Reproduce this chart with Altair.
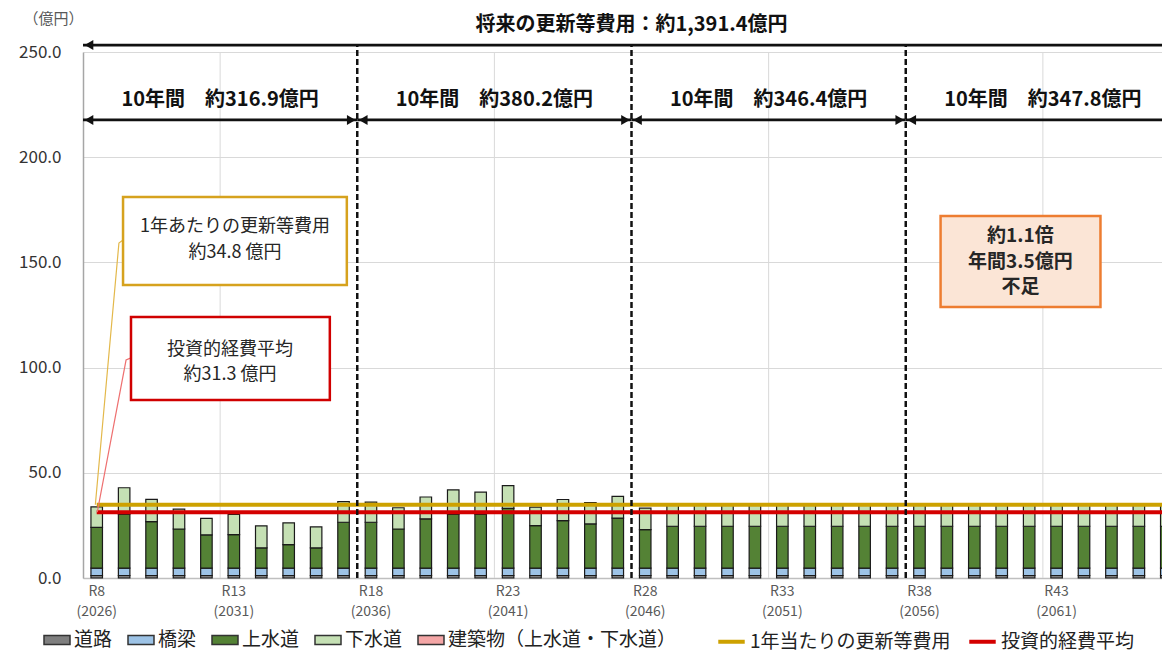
import altair as alt
import pandas as pd

FONT = "Noto Sans CJK JP"

# ---------------- data ----------------
years = ["R8", "R9", "R10", "R11", "R12", "R13", "R14", "R15", "R16", "R17",
         "R18", "R19", "R20", "R21", "R22", "R23", "R24", "R25", "R26", "R27",
         "R28", "R29", "R30", "R31", "R32", "R33", "R34", "R35", "R36", "R37",
         "R38", "R39", "R40", "R41", "R42", "R43", "R44", "R45", "R46", "R47"]
tick_years = ["R8", "R13", "R18", "R23", "R28", "R33", "R38", "R43"]

categories = ["道路", "橋梁", "上水道", "下水道", "建築物（上水道・下水道）"]
cat_colors = ["#7F7F7F", "#9DC3E6", "#548235", "#C5E0B4", "#F4A6A6"]

road = [1.2, 1.2, 1.2, 1.2, 1.2, 1.2, 1.2, 1.2, 1.2, 1.2,
        1.2, 1.2, 1.2, 1.2, 1.2, 1.2, 1.2, 1.2, 1.2, 1.2,
        1.2, 1.2, 1.2, 1.2, 1.2, 1.2, 1.2, 1.2, 1.2, 1.2,
        1.2, 1.2, 1.2, 1.2, 1.2, 1.2, 1.2, 1.2, 1.2, 1.2]
bridge = [3.5, 3.5, 3.5, 3.5, 3.5, 3.5, 3.5, 3.5, 3.5, 3.5,
          3.5, 3.5, 3.5, 3.5, 3.5, 3.5, 3.5, 3.5, 3.5, 3.5,
          3.5, 3.5, 3.5, 3.5, 3.5, 3.5, 3.5, 3.5, 3.5, 3.5,
          3.5, 3.5, 3.5, 3.5, 3.5, 3.5, 3.5, 3.5, 3.5, 3.5]
water = [19.4, 25.7, 22.1, 18.6, 15.8, 15.9, 9.6, 11.2, 9.6, 21.8,
         21.8, 18.6, 23.4, 25.7, 25.7, 28.4, 20.2, 22.6, 21.0, 23.8,
         18.3, 19.9, 19.9, 19.9, 19.9, 19.9, 19.9, 19.9, 19.9, 19.9,
         19.9, 19.9, 19.9, 19.9, 19.9, 19.9, 19.9, 19.9, 19.9, 19.9]
sewer = [9.7, 12.5, 10.6, 9.4, 7.8, 9.6, 10.5, 10.3, 10.0, 9.8,
         9.6, 10.1, 10.4, 11.5, 10.4, 10.8, 8.8, 10.0, 10.1, 10.3,
         10.2, 10.2, 10.2, 10.2, 10.2, 10.2, 10.2, 10.2, 10.2, 10.2,
         10.2, 10.2, 10.2, 10.2, 10.2, 10.2, 10.2, 10.2, 10.2, 10.2]
building = [0.0, 0.0, 0.0, 0.0, 0.0, 0.0, 0.0, 0.0, 0.0, 0.0,
            0.0, 0.0, 0.0, 0.0, 0.0, 0.0, 0.0, 0.0, 0.0, 0.0,
            0.0, 0.0, 0.0, 0.0, 0.0, 0.0, 0.0, 0.0, 0.0, 0.0,
            0.0, 0.0, 0.0, 0.0, 0.0, 0.0, 0.0, 0.0, 0.0, 0.0]

line_names = ["1年当たりの更新等費用", "投資的経費平均"]
line_values = [34.8, 31.3]
line_colors = ["#CDA100", "#D40000"]

title_text = "将来の更新等費用：約1,391.4億円"
period_labels = ["10年間　約316.9億円", "10年間　約380.2億円",
                 "10年間　約346.4億円", "10年間　約347.8億円"]
period_start = [0, 10, 20, 30]
period_end = [10, 20, 30, 39.8]
boundaries = [10, 20, 30]
grid_x = [5, 15, 25, 35]

gold_box_text = ["1年あたりの更新等費用", "約34.8 億円"]
red_box_text = ["投資的経費平均", "約31.3 億円"]
orange_box_text = ["約1.1倍", "年間3.5億円", "不足"]

# ---------------- tables ----------------
series = [road, bridge, water, sewer, building]
bar_rows = []
for i, yr in enumerate(years):
    for k, cat in enumerate(categories):
        bar_rows.append({"year": yr, "cat": cat, "ord": k, "value": series[k][i]})
df_bars = pd.DataFrame(bar_rows)

line_rows = []
for name, val in zip(line_names, line_values):
    for yr in years:
        line_rows.append({"year": yr, "series": name, "value": val})
df_lines = pd.DataFrame(line_rows)

RANGE_W = 1097
x_band = alt.Scale(domain=years, range=[0, RANGE_W], paddingInner=0.58, paddingOuter=0.29)
xq = alt.Scale(domain=[0, 40], range=[0, RANGE_W], nice=False, zero=False)
y_scale = alt.Scale(domain=[0, 250], nice=False, zero=True)

y_axis = alt.Axis(values=[0, 50, 100, 150, 200, 250], format=".1f", grid=True,
                  gridColor="#D9D9D9", gridWidth=1, domainColor="#A6A6A6", domainWidth=1.5,
                  ticks=False, tickSize=0, labelFontSize=17, labelColor="#333333",
                  labelPadding=22, title="（億円）", titleAngle=0, titleX=-30, titleY=-34,
                  titleAlign="center", titleBaseline="middle", titleFontSize=15,
                  titleFontWeight="normal", titleColor="#595959")
x_axis = alt.Axis(values=tick_years,
                  labelExpr="[datum.label, '(' + (2018 + toNumber(slice(datum.label, 1))) + ')']",
                  ticks=False, tickSize=0, domainColor="#BFBFBF", domainWidth=1.5, grid=False,
                  title=None, labelAngle=0, labelFontSize=14, labelColor="#595959",
                  labelPadding=6, labelLineHeight=20)

rect_path = "M-1,-0.34L1,-0.34L1,0.34L-1,0.34Z"

bars = alt.Chart(df_bars).transform_filter("datum.value > 0").mark_bar(
    stroke="#1a1a1a", strokeWidth=1.2).encode(
    x=alt.X("year:N", scale=x_band, axis=x_axis),
    y=alt.Y("value:Q", stack="zero", scale=y_scale, axis=y_axis),
    fill=alt.Fill("cat:N", scale=alt.Scale(domain=categories, range=cat_colors),
                  legend=alt.Legend(orient="none", legendX=-40, legendY=574, direction="horizontal",
                                    columns=5, title=None, symbolType=rect_path, symbolSize=676,
                                    symbolStrokeColor="#333333", symbolStrokeWidth=1.5,
                                    labelFontSize=19, labelColor="#222222", labelOffset=3,
                                    labelLimit=400, columnPadding=12)),
    order=alt.Order("ord:Q"),
)

lines = alt.Chart(df_lines).mark_line(strokeWidth=4).encode(
    x=alt.X("year:N", scale=x_band, axis=x_axis),
    y=alt.Y("value:Q", scale=y_scale, axis=y_axis),
    stroke=alt.Stroke("series:N", scale=alt.Scale(domain=line_names, range=line_colors),
                      legend=alt.Legend(orient="none", legendX=633, legendY=574, direction="horizontal",
                                        columns=2, title=None, symbolType="stroke", symbolSize=700,
                                        symbolStrokeWidth=4, labelFontSize=19, labelColor="#222222",
                                        labelOffset=3, labelLimit=400, columnPadding=10)),
)

# ---------------- annotations ----------------
def qx(field):
    return alt.X(field, scale=xq, axis=None)

def qy(field):
    return alt.Y(field, scale=y_scale, axis=y_axis)

grid = alt.Chart(pd.DataFrame({"x": grid_x, "y": [0] * len(grid_x), "y2": [250] * len(grid_x)})).mark_rule(
    color="#D9D9D9", strokeWidth=1).encode(x=qx("x:Q"), y=qy("y:Q"), y2="y2:Q")

dashed = alt.Chart(pd.DataFrame({"x": boundaries, "y": [0] * 3, "y2": [253.3] * 3})).mark_rule(
    color="#111111", strokeWidth=2.5, strokeDash=[6, 3]).encode(x=qx("x:Q"), y=qy("y:Q"), y2="y2:Q")

arrows_df = pd.DataFrame({
    "x": [0] + period_start,
    "x2": [39.8] + period_end,
    "y": [253.3] + [217.7] * 4,
})
arrow_lines = alt.Chart(arrows_df).mark_rule(color="#111111", strokeWidth=2.8).encode(
    x=qx("x:Q"), x2="x2:Q", y=qy("y:Q"))
heads_l = alt.Chart(arrows_df).mark_point(shape="triangle-left", filled=True, color="#111111",
                                          size=100, opacity=1, xOffset=6).encode(
    x=qx("x:Q"), y=qy("y:Q"))
heads_r = alt.Chart(arrows_df).mark_point(shape="triangle-right", filled=True, color="#111111",
                                          size=100, opacity=1, xOffset=-6).encode(
    x=qx("x2:Q"), y=qy("y:Q"))

period_df = pd.DataFrame({"x": [5, 15, 25, 35], "y": [227.2] * 4, "t": period_labels})
period_text = alt.Chart(period_df).mark_text(fontSize=20, fontWeight="bold", color="#111111").encode(
    x=qx("x:Q"), y=qy("y:Q"), text="t:N")

title_df = pd.DataFrame({"x": [20], "y": [263.0], "t": [title_text]})
title_mark = alt.Chart(title_df).mark_text(fontSize=20, fontWeight="bold", color="#111111").encode(
    x=qx("x:Q"), y=qy("y:Q"), text="t:N")

def box(x, x2, y, y2, fill, stroke):
    d = pd.DataFrame({"x": [x], "x2": [x2], "y": [y], "y2": [y2]})
    return alt.Chart(d).mark_rect(fill=fill, stroke=stroke, strokeWidth=2.5).encode(
        x=qx("x:Q"), x2="x2:Q", y=qy("y:Q"), y2="y2:Q")

gold_box = box(1.46, 9.62, 181.1, 139.3, "#FFFFFF", "#D6A21E")
red_box = box(1.75, 9.0, 124.0, 84.6, "#FFFFFF", "#D00000")
orange_box = box(31.27, 37.1, 172.1, 128.8, "#FBE5D6", "#ED7D31")

def leader(xs, ys, color):
    d = pd.DataFrame({"x": xs, "y": ys, "o": list(range(len(xs)))})
    return alt.Chart(d).mark_line(color=color, strokeWidth=1.2).encode(
        x=qx("x:Q"), y=qy("y:Q"), order="o:Q")

gold_leader = leader([1.46, 1.31, 0.45], [160.6, 159.2, 34.8], "#E3B84A")
red_leader = leader([1.75, 1.57, 0.52], [104.6, 103.6, 31.3], "#EE7070")

normal_df = pd.DataFrame({
    "x": [5.54, 5.54, 5.36, 5.36],
    "y": [166.8, 154.5, 108.4, 96.5],
    "t": gold_box_text + red_box_text,
})
normal_text = alt.Chart(normal_df).mark_text(fontSize=18, color="#262626").encode(
    x=qx("x:Q"), y=qy("y:Q"), text="t:N")

bold_df = pd.DataFrame({"x": [34.18] * 3, "y": [162.5, 150.2, 138.3], "t": orange_box_text})
bold_text = alt.Chart(bold_df).mark_text(fontSize=19, fontWeight="bold", color="#262626").encode(
    x=qx("x:Q"), y=qy("y:Q"), text="t:N")

back = alt.layer(grid)
inner = alt.layer(bars, lines)
front = alt.layer(dashed, arrow_lines, heads_l, heads_r, period_text, title_mark,
                  gold_leader, red_leader, gold_box, red_box, orange_box, normal_text, bold_text)

chart = alt.layer(back, inner, front).resolve_scale(x="independent").properties(
    width=1079, height=526,
    autosize=alt.AutoSizeParams(type="none"),
    padding={"left": 75, "top": 44, "right": 0, "bottom": 75},
).configure(font=FONT).configure_view(stroke=None)

chart.save("out.html", embed_options={"renderer": "svg", "actions": False})
